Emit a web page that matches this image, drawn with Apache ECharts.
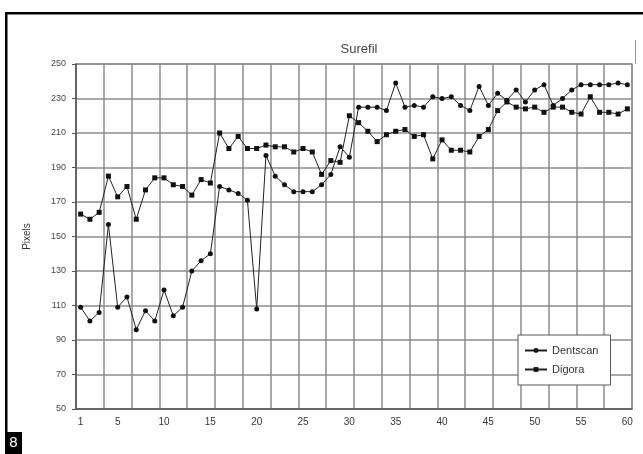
<!DOCTYPE html>
<html>
<head>
<meta charset="utf-8">
<script src="https://cdn.jsdelivr.net/npm/echarts@6/dist/echarts.min.js"></script>
<style>
  html, body { margin: 0; padding: 0; background: #fff; }
  #chart { width: 643px; height: 454px; }
</style>
</head>
<body>
<div id="chart"></div>
<script>
// categories 1..60
const categories = [];
for (let i = 1; i <= 60; i++) categories.push(String(i));

const dentscan = [
  109, 101, 106, 157, 109, 115, 96, 107, 101, 119,
  104, 109, 130, 136, 140, 179, 177, 175, 171, 108,
  197, 185, 180, 176, 176, 176, 180, 186, 202, 196,
  225, 225, 225, 223, 239, 225, 226, 225, 231, 230,
  231, 226, 223, 237, 226, 233, 229, 235, 228, 235,
  238, 226, 230, 235, 238, 238, 238, 238, 239, 238
];
const digora = [
  163, 160, 164, 185, 173, 179, 160, 177, 184, 184,
  180, 179, 174, 183, 181, 210, 201, 208, 201, 201,
  203, 202, 202, 199, 201, 199, 186, 194, 193, 220,
  216, 211, 205, 209, 211, 212, 208, 209, 195, 206,
  200, 200, 199, 208, 212, 223, 228, 225, 224, 225,
  222, 225, 225, 222, 221, 231, 222, 222, 221, 224
];

const chart = echarts.init(document.getElementById("chart"));

const option = {
  animation: false,
  backgroundColor: "#fff",
  textStyle: { fontFamily: "Liberation Sans, Arial, sans-serif" },
  title: {
    text: "Surefil",
    left: 354,
    textAlign: "center",
    top: 38,
    textStyle: { fontSize: 13, fontWeight: "normal", color: "#444" }
  },
  legend: {
    left: 518,
    top: 335,
    orient: "vertical",
    backgroundColor: "#fff",
    borderColor: "#555",
    borderWidth: 1,
    borderRadius: 0,
    padding: [10, 12, 10, 6],
    itemGap: 8,
    itemWidth: 22,
    itemHeight: 6,
    textStyle: { fontSize: 11, color: "#333" },
    data: ["Dentscan", "Digora"]
  },
  grid: {
    left: 76,
    right: 11,
    top: 64,
    bottom: 45,
    show: true,
    borderColor: "#999",
    borderWidth: 1.5
  },
  xAxis: {
    type: "category",
    data: categories,
    boundaryGap: true,
    axisLine: { lineStyle: { color: "#555", width: 1.5 } },
    axisTick: { interval: 2, length: 5, lineStyle: { color: "#555" } },
    axisLabel: {
      interval: function (index) { return index === 0 || (index + 1) % 5 === 0; },
      fontSize: 10,
      color: "#333",
      margin: 8
    },
    splitLine: { show: true, interval: 2, lineStyle: { color: "#8c8c8c", width: 1.5 } }
  },
  yAxis: {
    type: "value",
    name: "Pixels",
    nameLocation: "middle",
    nameGap: 44,
    nameTextStyle: { fontSize: 10, color: "#333" },
    min: 50,
    max: 250,
    interval: 20,
    axisLine: { show: true, lineStyle: { color: "#555", width: 1.5 } },
    axisTick: { show: true, length: 4, lineStyle: { color: "#555" } },
    axisLabel: { fontSize: 9, color: "#444", margin: 10 },
    splitLine: { show: true, lineStyle: { color: "#8c8c8c", width: 1.5 } }
  },
  series: [
    {
      name: "Dentscan",
      type: "line",
      data: dentscan,
      symbol: "circle",
      symbolSize: 5,
      itemStyle: { color: "#111" },
      lineStyle: { color: "#222", width: 1 }
    },
    {
      name: "Digora",
      type: "line",
      data: digora,
      symbol: "rect",
      symbolSize: 5,
      itemStyle: { color: "#111" },
      lineStyle: { color: "#222", width: 1 }
    }
  ],
  graphic: [
    { type: "rect", shape: { x: 5, y: 12, width: 643, height: 2.5 }, style: { fill: "#000" } },
    { type: "rect", shape: { x: 5, y: 12, width: 2.5, height: 425 }, style: { fill: "#000" } },
    { type: "rect", shape: { x: 635, y: 40, width: 1, height: 24 }, style: { fill: "#999" } },
    { type: "rect", shape: { x: 5, y: 432, width: 17, height: 22 }, style: { fill: "#000" } },
    {
      type: "text",
      style: { text: "8", x: 13.5, y: 443, fill: "#fff", fontSize: 15, align: "center", verticalAlign: "middle", fontFamily: "Liberation Sans, Arial, sans-serif" }
    }
  ]
};

chart.setOption(option);
</script>
</body>
</html>
